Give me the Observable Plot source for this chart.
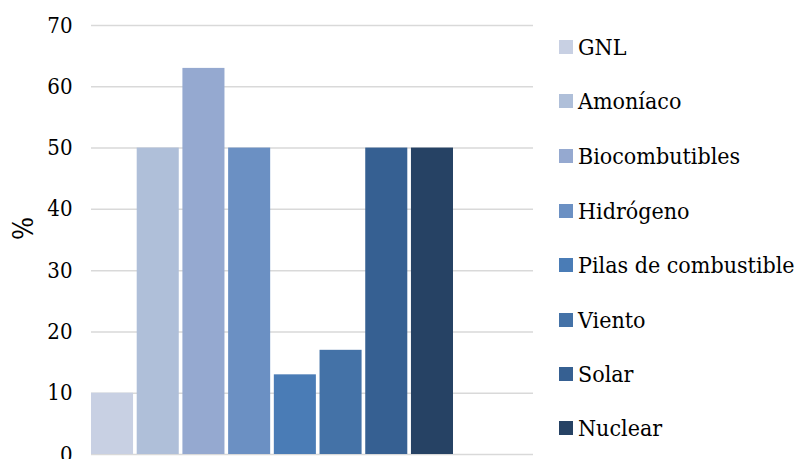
<!DOCTYPE html>
<html>
<head>
<meta charset="utf-8">
<script src="https://cdn.jsdelivr.net/npm/d3@7"></script>
<script src="https://cdn.jsdelivr.net/npm/@observablehq/plot@0.6"></script>
<style>
  html, body { margin: 0; padding: 0; background: #fff; }
  #wrap { position: relative; width: 798px; height: 459px; overflow: hidden; }
  #legend { position: absolute; left: 559px; top: 0; font-family: "DejaVu Serif Condensed", "DejaVu Serif", serif; font-stretch: condensed; font-size: 23px; color: #000; }
  .item { position: absolute; left: 0; white-space: nowrap; display: flex; align-items: center; }
  .sw { width: 14px; height: 14px; margin-right: 5px; flex: none; }
  svg text { font-stretch: condensed; }
</style>
</head>
<body>
<div id="wrap"><div id="chart"></div><div id="legend"></div></div>
<script>
const categories = ["GNL", "Amoníaco", "Biocombutibles", "Hidrógeno", "Pilas de combustible", "Viento", "Solar", "Nuclear"];
const values = [10, 50, 63, 50, 13, 17, 50, 50];
const colors = ["#c8d0e3", "#afbfd9", "#95a9d0", "#6b90c3", "#4a7cb6", "#4472a7", "#366092", "#264264"];
const yTicks = [0, 10, 20, 30, 40, 50, 60, 70];
const legendY = [47, 101, 156, 211, 265, 320, 374, 428];

const data = categories.map((c, i) => ({category: c, value: values[i]}));
const serif = "'DejaVu Serif Condensed', 'DejaVu Serif', serif";

const chart = Plot.plot({
  width: 798,
  height: 459,
  marginLeft: 91,
  marginRight: 265,
  marginTop: 25,
  marginBottom: 5,
  style: {fontFamily: serif, fontSize: "22px", color: "#000", background: "#fff", overflow: "visible"},
  x: {domain: categories, range: [91, 453], paddingInner: 0.08, paddingOuter: 0, round: false, axis: null},
  y: {domain: [0, 70], ticks: yTicks, tickSize: 0, tickPadding: 19, label: null},
  color: {domain: categories, range: colors},
  marks: [
    Plot.ruleY(yTicks, {stroke: "#d9d9d9", strokeWidth: 1.5}),
    Plot.barY(data, {x: "category", y: "value", fill: "category"}),
    Plot.axisY({ticks: yTicks, tickSize: 0, tickPadding: 19, label: null, fontSize: 22, fontFamily: serif}),
    Plot.text(["%"], {frameAnchor: "left", dx: -67, rotate: -90, fontSize: 27, fontFamily: serif})
  ]
});
document.getElementById("chart").appendChild(chart);

const leg = document.getElementById("legend");
categories.forEach((c, i) => {
  const d = document.createElement("div");
  d.className = "item";
  d.style.top = (legendY[i] - 13) + "px";
  d.style.height = "26px";
  d.innerHTML = `<span class="sw" style="background:${colors[i]}"></span><span>${c}</span>`;
  leg.appendChild(d);
});
</script>
</body>
</html>
